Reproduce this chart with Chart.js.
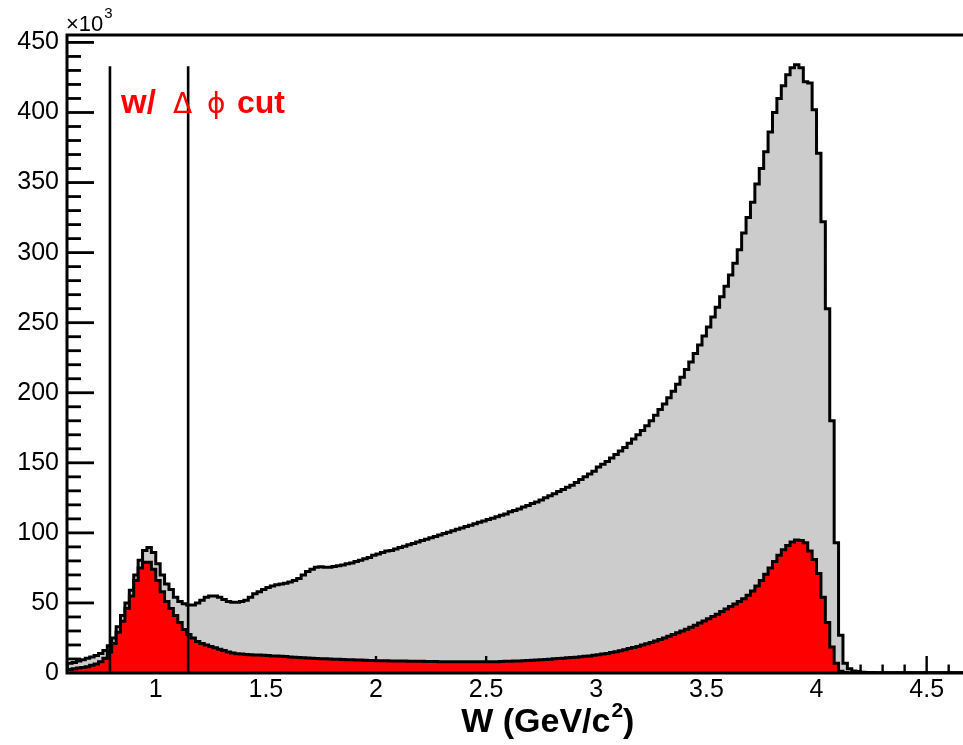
<!DOCTYPE html>
<html>
<head>
<meta charset="utf-8">
<script src="https://cdn.jsdelivr.net/npm/chart.js@4.4.0/dist/chart.umd.min.js"></script>
<style>
html,body{margin:0;padding:0;background:#fff;overflow:hidden;}
#wrap{width:963px;height:745px;position:relative;}
</style>
</head>
<body>
<div id="wrap"><canvas id="c" width="963" height="745"></canvas></div>
<script>
// ---- data (counts in units of 10^3 per 0.02 GeV/c^2 bin) ----
const binStart = 0.60;
const binWidth = 0.02;

// all events (grey histogram)
const allEvents = [
  7, 7.5, 8.5, 9.5, 10.5, 11.5, 12.5, 14, 16, 19.5,
  25, 33, 41, 50, 59, 70, 80.5, 87.5, 89.5, 86,
  78, 70, 63.5, 59.5, 54, 51, 49.5, 48.5, 48.5, 50,
  52, 54, 55, 55, 54, 52.5, 51, 50.5, 50.5, 51,
  52, 54, 56.5, 58, 59.5, 61, 62, 63, 63.5, 64,
  65, 66, 67.5, 70, 72.5, 74, 75.5, 75.8, 75.5, 75.5,
  76, 76.5, 77, 78, 78.5, 79.5, 80.5, 81.5, 82.5, 84,
  85, 86, 87, 87.5, 88.5, 89.5, 90.5, 91.5, 92.5, 93.5,
  94.5, 95.5, 96.5, 97.5, 98.5, 99.5, 100.5, 101.5, 102.5, 103.5,
  104.5, 105.5, 106.5, 107.5, 108.5, 109.5, 110.5, 111.5, 112.5, 113.5,
  115, 116, 117, 118.5, 119.5, 121, 122, 123.5, 125, 126.5,
  128, 129.5, 131, 132.5, 134, 136, 138, 140, 142, 144,
  147, 149, 151, 153.5, 156, 158.5, 161, 164, 167, 170,
  173, 176.5, 180, 184, 188, 192, 196.5, 201, 206, 211,
  216.5, 222, 228, 234, 240.5, 247, 254, 261, 268.5, 276,
  284, 292.5, 302, 314, 325, 336, 349, 360, 372, 386,
  400, 410, 419, 427, 432, 434, 432, 422, 421, 402,
  371, 322, 260, 180, 93, 27, 7, 3, 1.5, 1,
  0.6, 0.4, 0.3, 0.2, 0.2, 0.1, 0.1, 0.1, 0.1, 0.1,
  0.1, 0.1, 0.1, 0.1, 0.1, 0.1, 0.1, 0.1, 0.1, 0.1,
  0.1, 0.1, 0.1, 0.1
];

// events passing the delta-phi cut (red histogram)
const withCut = [
  2.5, 3, 3.5, 4, 4.5, 5.5, 6.5, 8, 10.5, 15,
  21, 29, 37, 46, 55, 66, 75, 79, 79, 74,
  66, 58, 51, 46, 41, 36, 31, 27.5, 25, 22.5,
  21, 20, 19, 18, 17, 16, 15, 14.3, 13.8, 13.5,
  13.2, 13, 12.9, 12.8, 12.6, 12.4, 12.2, 12.1, 12, 11.8,
  11.5, 11.3, 11.1, 10.9, 10.7, 10.5, 10.3, 10.2, 10.1, 10,
  9.9, 9.8, 9.6, 9.5, 9.4, 9.3, 9.2, 9.1, 9, 8.9,
  8.8, 8.7, 8.7, 8.6, 8.6, 8.5, 8.5, 8.4, 8.4, 8.3,
  8.3, 8.2, 8.2, 8.2, 8.1, 8.1, 8.1, 8, 8, 8,
  8, 8, 8, 8, 8, 8, 8.1, 8.1, 8.2, 8.3,
  8.4, 8.5, 8.6, 8.8, 8.9, 9.1, 9.3, 9.5, 9.7, 9.9,
  10.1, 10.3, 10.5, 10.8, 11, 11.3, 11.6, 11.9, 12.2, 12.6,
  13, 13.5, 14, 14.6, 15.2, 15.9, 16.6, 17.4, 18.2, 19,
  19.9, 20.8, 21.8, 22.8, 23.9, 25, 26.2, 27.4, 28.7, 30,
  31.3, 32.7, 34.1, 35.6, 37.1, 38.7, 40.3, 42, 43.8, 45.6,
  47.5, 49.3, 51, 53, 55.5, 58.5, 62, 66, 70.5, 75,
  79.5, 84, 88, 91, 93.5, 95, 94.5, 93, 87, 81,
  71, 54, 36, 18.5, 7, 1.2, 0.3, 0, 0, 0,
  0, 0, 0, 0, 0, 0, 0, 0, 0, 0,
  0, 0, 0, 0, 0, 0, 0, 0, 0, 0,
  0, 0, 0, 0
];

// axis ranges and ticks
const xRange = [0.597, 4.665];
const yRange = [0, 455.3];
const xMajorStep = 0.5, xMinorStep = 0.1;
const yMajorStep = 50, yMinorStep = 10;

// delta-phi window markers
const cutEdges = [0.792, 1.147];
const cutLineTop = 433;

// texts
const xTitleMain = 'W (GeV/c';
const xTitleSup = '2';
const xTitleEnd = ')';
const yExpBase = '\u00d710';
const yExpSup = '3';
const cutLabel = ['w/ ', '\u0394', '\u03d5', 'cut'];

const FONT = '"Liberation Sans", Arial, Helvetica, sans-serif';
const SYMFONT = '"DejaVu Sans", "Liberation Sans", sans-serif';

function histPoints(counts) {
  const pts = counts.map((v, i) => ({ x: binStart + i * binWidth, y: v }));
  pts.push({ x: binStart + counts.length * binWidth, y: counts[counts.length - 1] });
  return pts;
}

const decor = {
  id: 'decor',
  afterDatasetDraw(chart, args) {
    if (args.index !== 0) return;
    // tick marks drawn after the grey histogram and before the red one
    const ctx = chart.ctx, xs = chart.scales.x, ys = chart.scales.y, ca = chart.chartArea;
    ctx.save();
    ctx.strokeStyle = '#000';
    ctx.lineCap = 'butt';
    ctx.lineWidth = 2.4;
    const nx0 = Math.ceil(xs.min / xMinorStep - 1e-6), nx1 = Math.floor(xs.max / xMinorStep + 1e-6);
    for (let n = nx0; n <= nx1; n++) {
      const v = n * xMinorStep;
      const major = Math.abs(v / xMajorStep - Math.round(v / xMajorStep)) < 1e-6;
      const px = xs.getPixelForValue(v);
      const len = major ? 17 : 8.5;
      ctx.beginPath(); ctx.moveTo(px, ca.bottom); ctx.lineTo(px, ca.bottom - len); ctx.stroke();
    }
    ctx.lineWidth = 2.8;
    const ny1 = Math.floor(ys.max / yMinorStep + 1e-6);
    for (let n = 1; n <= ny1; n++) {
      const v = n * yMinorStep;
      const major = (v % yMajorStep) === 0;
      const py = ys.getPixelForValue(v);
      const len = major ? 27 : 14;
      ctx.beginPath(); ctx.moveTo(ca.left, py); ctx.lineTo(ca.left + len, py); ctx.stroke();
    }
    ctx.restore();
  },
  afterDatasetsDraw(chart) {
    const ctx = chart.ctx, ca = chart.chartArea;
    ctx.save();
    ctx.strokeStyle = '#000';
    ctx.lineCap = 'square';
    ctx.lineWidth = 3;
    ctx.beginPath();
    ctx.moveTo(chart.width + 5, ca.top);
    ctx.lineTo(ca.left, ca.top);
    ctx.lineTo(ca.left, ca.bottom);
    ctx.lineTo(chart.width + 5, ca.bottom);
    ctx.stroke();
    ctx.restore();
  },
  afterDraw(chart) {
    const ctx = chart.ctx, ca = chart.chartArea, xs = chart.scales.x;
    ctx.save();
    ctx.fillStyle = '#000';
    ctx.textBaseline = 'alphabetic';
    ctx.textAlign = 'left';
    // exponent label
    ctx.font = '22px ' + FONT;
    ctx.fillText(yExpBase, ca.left - 1, ca.top - 4);
    const wBase = ctx.measureText(yExpBase).width;
    ctx.font = '15px ' + FONT;
    ctx.fillText(yExpSup, ca.left - 1 + wBase + 1, ca.top - 17);
    // x title
    ctx.font = 'bold 34px ' + FONT;
    const w1 = ctx.measureText(xTitleMain).width;
    const w3 = ctx.measureText(xTitleEnd).width;
    ctx.font = 'bold 21px ' + FONT;
    const w2 = ctx.measureText(xTitleSup).width;
    const total = w1 + w2 + w3 + 1;
    const cx = xs.getPixelForValue(2.78);
    let x = cx - total / 2;
    const base = 732;
    ctx.font = 'bold 34px ' + FONT;
    ctx.fillText(xTitleMain, x, base);
    x += w1;
    ctx.font = 'bold 21px ' + FONT;
    ctx.fillText(xTitleSup, x + 1, base - 15);
    x += w2 + 1;
    ctx.font = 'bold 34px ' + FONT;
    ctx.fillText(xTitleEnd, x, base);
    // cut label
    ctx.fillStyle = '#ff0000';
    const ly = 113;
    ctx.font = 'bold 33px ' + FONT;
    ctx.fillText(cutLabel[0], 121, ly);
    ctx.font = '28px ' + SYMFONT;
    ctx.fillText(cutLabel[1], 173, ly);
    ctx.font = '28px ' + SYMFONT;
    ctx.fillText(cutLabel[2], 207, ly);
    ctx.font = 'bold 32px ' + FONT;
    ctx.fillText(cutLabel[3], 237, ly);
    ctx.restore();
  }
};

new Chart(document.getElementById('c').getContext('2d'), {
  type: 'line',
  data: {
    datasets: [
      { label: 'all', data: histPoints(allEvents), stepped: true, fill: 'origin',
        backgroundColor: '#cccccc', borderColor: '#000000', borderWidth: 3,
        pointRadius: 0, order: 3, borderJoinStyle: 'miter' },
      { label: 'w/ cut', data: histPoints(withCut), stepped: true, fill: 'origin',
        backgroundColor: '#ff0000', borderColor: '#000000', borderWidth: 3,
        pointRadius: 0, order: 2, borderJoinStyle: 'miter' },
      { label: 'cut low', data: [{ x: cutEdges[0], y: 0 }, { x: cutEdges[0], y: cutLineTop }],
        borderColor: '#000000', borderWidth: 2.6, pointRadius: 0, fill: false, order: 1 },
      { label: 'cut high', data: [{ x: cutEdges[1], y: 0 }, { x: cutEdges[1], y: cutLineTop }],
        borderColor: '#000000', borderWidth: 2.6, pointRadius: 0, fill: false, order: 1 }
    ]
  },
  options: {
    responsive: false,
    animation: false,
    devicePixelRatio: 1,
    layout: { padding: { top: 35, right: 0, bottom: 0, left: 0 } },
    plugins: { legend: { display: false }, tooltip: { enabled: false }, title: { display: false } },
    scales: {
      x: {
        type: 'linear', min: xRange[0], max: xRange[1],
        grid: { display: false, drawTicks: false },
        border: { display: false },
        ticks: { stepSize: xMajorStep, includeBounds: false, autoSkip: false, maxRotation: 0,
          color: '#000', padding: 2, font: { family: FONT, size: 25 },
          callback: v => String(Math.round(v * 10) / 10) },
        afterFit(s) { s.height = 72; }
      },
      y: {
        type: 'linear', min: yRange[0], max: yRange[1],
        grid: { display: false, drawTicks: false },
        border: { display: false },
        ticks: { stepSize: yMajorStep, includeBounds: false, autoSkip: false,
          color: '#000', padding: 8, font: { family: FONT, size: 25 },
          callback: v => String(Math.round(v)) },
        afterFit(s) { s.width = 67; }
      }
    }
  },
  plugins: [decor]
});
</script>
</body>
</html>
